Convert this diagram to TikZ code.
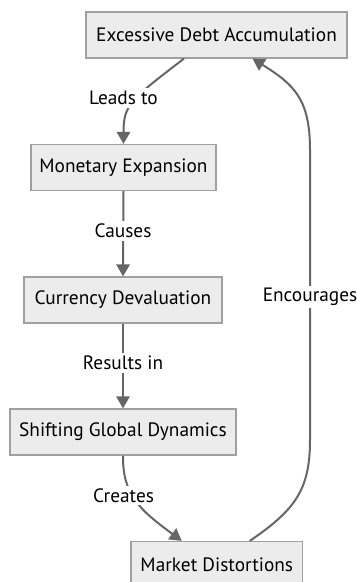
\documentclass[tikz,border=0pt]{standalone}
\usepackage{fontspec}
\setmainfont{PT Sans}
\usetikzlibrary{arrows.meta,calc}
\definecolor{boxfill}{HTML}{ECECEC}
\definecolor{boxline}{HTML}{A0A0A0}
\definecolor{edgecol}{HTML}{666666}
\definecolor{txt}{HTML}{000000}
\begin{document}
\begin{tikzpicture}[x=0.75pt,y=-0.75pt,
  box/.style={draw=boxline,fill=boxfill,line width=0.9pt,minimum height=34.5pt,inner sep=0pt,text=txt,font=\fontsize{14.5}{16}\selectfont},
  elabel/.style={fill=white,inner xsep=1.5pt,inner ysep=2pt,text=txt,font=\fontsize{14.5}{16}\selectfont},
  conn/.style={draw=edgecol,line width=1.5pt,-{Triangle[length=9pt,width=10pt]}}]
\useasboundingbox (0,0) rectangle (357,582);
\node[box,minimum width=195.75pt] (ex) at (216.5,35) {Excessive Debt Accumulation};
\node[box,minimum width=138.75pt] (mo) at (123.5,167.5) {Monetary Expansion};
\node[box,minimum width=148.5pt] (cu) at (123,300) {Currency Devaluation};
\node[box,minimum width=169.5pt] (sh) at (123,432) {Shifting Global Dynamics};
\node[box,minimum width=128.8pt] (ma) at (216.8,564.5) {Market Distortions};
% edges
\coordinate (e1s) at ($(ex.south)+(-32.5,0)$);
\draw[conn] (e1s) .. controls (130,100) and (123.5,105) .. (mo.north);
\draw[conn] (mo.south) -- (cu.north);
\draw[conn] (cu.south) -- (sh.north);
\coordinate (e4e) at ($(ma.north)+(-35,0)$);
\draw[conn] (sh.south) .. controls (122.5,495) and (140,510) .. (e4e);
\coordinate (e5s) at ($(ma.north)+(33,0)$);
\coordinate (e5e) at ($(ex.south)+(36,0)$);
\draw[conn] (e5s) .. controls (295,510) and (310,490) .. (310,440) -- (310,150) .. controls (310,100) and (295,85) .. (e5e);
% labels
\node[elabel] (l1) at (123.5,98) {Leads to};
\node[elabel] (l2) at (123,231) {Causes};
\node[elabel] (l3) at (123,363) {Results in};
\node[elabel] (l4) at (123.5,495.5) {Creates};
\node[elabel] (l5) at (310,297) {Encourages};
\end{tikzpicture}
\end{document}
